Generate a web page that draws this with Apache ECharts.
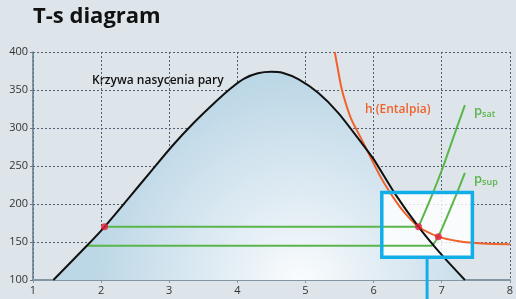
<!DOCTYPE html>
<html>
<head>
<meta charset="utf-8">
<script src="https://cdn.jsdelivr.net/npm/echarts@6/dist/echarts.min.js"></script>
<style>
  html, body { margin: 0; padding: 0; background: #dde5eb; }
  #chart { width: 516px; height: 299px; }
</style>
</head>
<body>
<div id="chart"></div>
<script>
  // entropia s [kJ/kgK] vs temperatura T
  var xTicks = [1, 8]
  var yTicks = [100, 400]

  var domeCurve = [
    [1.3, 100], [1.79, 145], [2.05, 170], [2.38, 205], [2.75, 245], [3.05, 277],
    [3.35, 306], [3.65, 332], [3.9, 352], [4.1, 365], [4.3, 372], [4.5, 374],
    [4.65, 373], [4.9, 364], [5.19, 346], [5.48, 320], [5.81, 282], [6.0, 259],
    [6.31, 214], [6.66, 170], [7.0, 133], [7.34, 100]
  ]
  var enthalpyCurve = [
    [5.43, 400], [5.48, 375], [5.53, 352], [5.6, 330], [5.68, 310], [5.83, 284],
    [6.1, 236], [6.3, 207], [6.45, 189], [6.66, 170], [6.95, 157], [7.25, 151],
    [7.6, 148], [8, 147]
  ]
  var pSat = [[6.66, 170], [6.85, 210], [7.02, 249], [7.18, 290], [7.34, 330]]
  var pSup = [[6.86, 145], [6.95, 157], [7.18, 205], [7.34, 241]]
  var line170 = [[2.05, 170], [6.66, 170]]
  var line145 = [[1.79, 145], [6.86, 145]]
  var redPoints = [[2.05, 170], [6.66, 170], [6.95, 157]]
  var zoomBox = [[6.12, 215, 7.45, 130]]

  var chart = echarts.init(document.getElementById('chart'))

  var green = '#5ab54b'
  var orange = '#f0622a'
  var cyan = '#12aee8'

  chart.setOption({
    backgroundColor: '#dde5eb',
    animation: false,
    textStyle: { fontFamily: 'Open Sans' },
    grid: { left: 33, right: 3, top: 52, bottom: 19 },
    xAxis: {
      type: 'value',
      min: xTicks[0],
      max: xTicks[1],
      interval: 1,
      axisLine: { lineStyle: { color: '#8496a2', width: 2 } },
      axisTick: { show: true, length: 3, lineStyle: { color: '#8496a2' } },
      axisLabel: { color: '#333', fontSize: 11, margin: 5 },
      splitLine: { show: true, lineStyle: { color: '#4f6170', type: [2, 2], width: 1 } }
    },
    yAxis: {
      type: 'value',
      min: yTicks[0],
      max: yTicks[1],
      interval: 50,
      axisLine: { show: true, lineStyle: { color: '#5e7b8c', width: 1.5 } },
      axisTick: { show: true, length: 3, lineStyle: { color: '#5e7b8c' } },
      axisLabel: { color: '#333', fontSize: 11, margin: 5 },
      splitLine: { show: true, lineStyle: { color: '#4f6170', type: [2, 2], width: 1 } }
    },
    graphic: [
      { type: 'text', left: 33, top: 6, style: { text: 'T-s diagram', font: 'bold 22px "Open Sans"', fill: '#111' } },
      { type: 'text', left: 92, top: 75, style: { text: 'Krzywa nasycenia pary', font: '600 12px "Open Sans"', fill: '#111' } },
      { type: 'text', left: 365, top: 104, style: { text: 'h (Entalpia)', font: '600 12px "Open Sans"', fill: orange } },
      {
        type: 'text', left: 474, top: 105,
        style: {
          text: '{p|p}{s|sat}', fill: green,
          rich: { p: { fontSize: 13, fontWeight: 600, fontFamily: 'Open Sans', fill: green }, s: { fontSize: 9, fontWeight: 600, fontFamily: 'Open Sans', fill: green, padding: [5, 0, 0, 0] } }
        }
      },
      {
        type: 'text', left: 474, top: 173,
        style: {
          text: '{p|p}{s|sup}', fill: green,
          rich: { p: { fontSize: 13, fontWeight: 600, fontFamily: 'Open Sans', fill: green }, s: { fontSize: 9, fontWeight: 600, fontFamily: 'Open Sans', fill: green, padding: [5, 0, 0, 0] } }
        }
      }
    ],
    series: [
      {
        // wypelnienie pod krzywa nasycenia
        type: 'line',
        data: domeCurve,
        smooth: 0.25,
        symbol: 'none',
        z: 1,
        lineStyle: { width: 0 },
        areaStyle: {
          opacity: 1,
          color: {
            type: 'radial', x: 0.6, y: 1.02, r: 1,
            colorStops: [
              { offset: 0, color: '#fbfdfe' },
              { offset: 0.35, color: '#e4eef5' },
              { offset: 1, color: '#bcd7e6' }
            ]
          }
        }
      },
      {
        type: 'custom',
        z: 2,
        data: zoomBox,
        renderItem: function (params, api) {
          var p1 = api.coord([api.value(0), api.value(1)])
          var p2 = api.coord([api.value(2), api.value(3)])
          return {
            type: 'rect',
            shape: { x: p1[0], y: p1[1], width: p2[0] - p1[0], height: p2[1] - p1[1] },
            style: { fill: 'rgba(255,255,255,0.82)' }
          }
        }
      },
      { type: 'line', data: line170, symbol: 'none', z: 3, lineStyle: { color: green, width: 2 } },
      { type: 'line', data: line145, symbol: 'none', z: 3, lineStyle: { color: green, width: 2 } },
      { type: 'line', data: pSat, smooth: 0.25, symbol: 'none', z: 3, lineStyle: { color: green, width: 2 } },
      { type: 'line', data: pSup, smooth: 0.25, symbol: 'none', z: 3, lineStyle: { color: green, width: 2 } },
      { type: 'line', data: enthalpyCurve, smooth: 0.25, symbol: 'none', z: 4, lineStyle: { color: orange, width: 2 } },
      { type: 'line', data: domeCurve, smooth: 0.25, symbol: 'none', z: 5, lineStyle: { color: '#111', width: 2 } },
      {
        type: 'custom',
        z: 6,
        data: zoomBox,
        renderItem: function (params, api) {
          var p1 = api.coord([api.value(0), api.value(1)])
          var p2 = api.coord([api.value(2), api.value(3)])
          var mid = (p1[0] + p2[0]) / 2
          return {
            type: 'group',
            children: [
              {
                type: 'rect',
                shape: { x: p1[0], y: p1[1], width: p2[0] - p1[0], height: p2[1] - p1[1] },
                style: { fill: null, stroke: cyan, lineWidth: 3.5 }
              },
              {
                type: 'line',
                shape: { x1: mid, y1: p2[1], x2: mid, y2: api.getHeight() },
                style: { stroke: cyan, lineWidth: 3 }
              }
            ]
          }
        }
      },
      {
        type: 'scatter',
        data: redPoints,
        symbolSize: 7,
        z: 7,
        itemStyle: { color: '#e31e3c' }
      }
    ]
  })
</script>
</body>
</html>
